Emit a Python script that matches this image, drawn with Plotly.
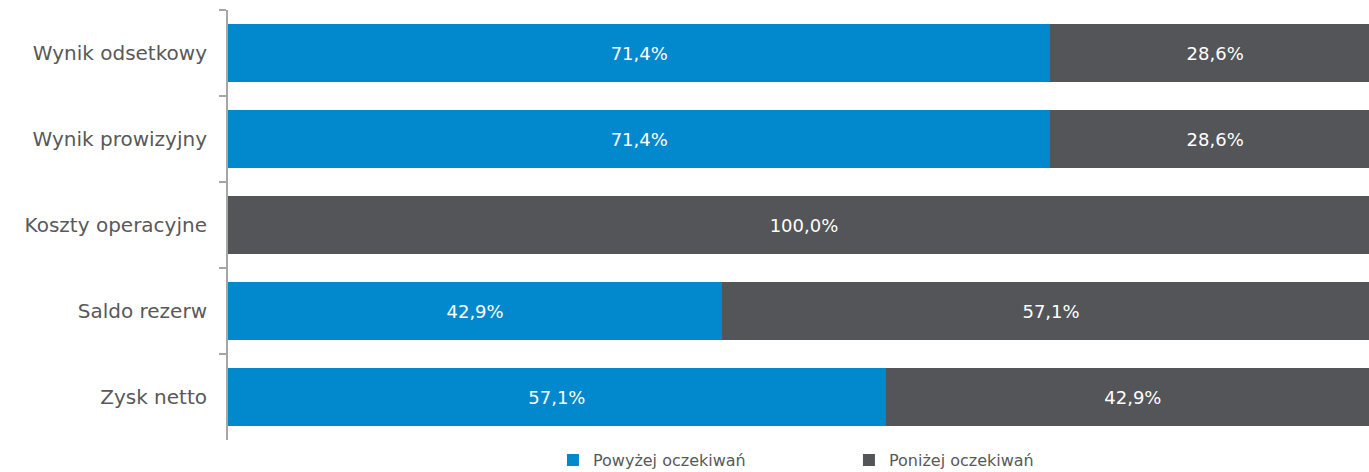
import plotly.graph_objects as go

categories = ["Wynik odsetkowy", "Wynik prowizyjny", "Koszty operacyjne", "Saldo rezerw", "Zysk netto"]
above = [71.4, 71.4, 0.0, 42.9, 57.1]
below = [28.6, 28.6, 100.0, 57.1, 42.9]
series_names = ["Powyżej oczekiwań", "Poniżej oczekiwań"]

def fmt(v):
    return "" if v == 0 else f"{v:.1f}%".replace(".", ",")

fig = go.Figure()
fig.add_trace(go.Bar(
    y=categories, x=above, orientation="h", name=series_names[0],
    marker=dict(color="#0288CC", line=dict(width=0)),
    text=[fmt(v) for v in above], textposition="inside", insidetextanchor="middle",
    textfont=dict(color="white", size=18, family="DejaVu Sans"),
    constraintext="none",
))
fig.add_trace(go.Bar(
    y=categories, x=below, orientation="h", name=series_names[1],
    marker=dict(color="#545558", line=dict(width=0)),
    text=[fmt(v) for v in below], textposition="inside", insidetextanchor="middle",
    textfont=dict(color="white", size=18, family="DejaVu Sans"),
    constraintext="none",
))

fig.update_layout(
    barmode="stack",
    bargap=0.335,
    width=1369, height=472,
    margin=dict(l=228, r=0, t=10, b=32, autoexpand=False),
    paper_bgcolor="white", plot_bgcolor="white",
    font=dict(family="DejaVu Sans", color="#595959", size=18),
    legend=dict(orientation="h", x=0.2848, xanchor="left",
                yref="container", y=0.025, yanchor="middle",
                font=dict(size=16, color="#595959"), entrywidth=251, entrywidthmode="pixels",
                itemwidth=30, traceorder="normal"),
    xaxis=dict(range=[0, 99.05], visible=False, fixedrange=True),
    yaxis=dict(categoryorder="array", categoryarray=categories, autorange="reversed",
               showline=True, linecolor="#A6A6A6", linewidth=2,
               ticks="outside", tickson="boundaries", ticklen=7, tickcolor="#A6A6A6", tickwidth=2,
               ticklabelstandoff=15, showgrid=False, tickfont=dict(size=20, color="#595959")),
)

fig.write_html("out.html")
